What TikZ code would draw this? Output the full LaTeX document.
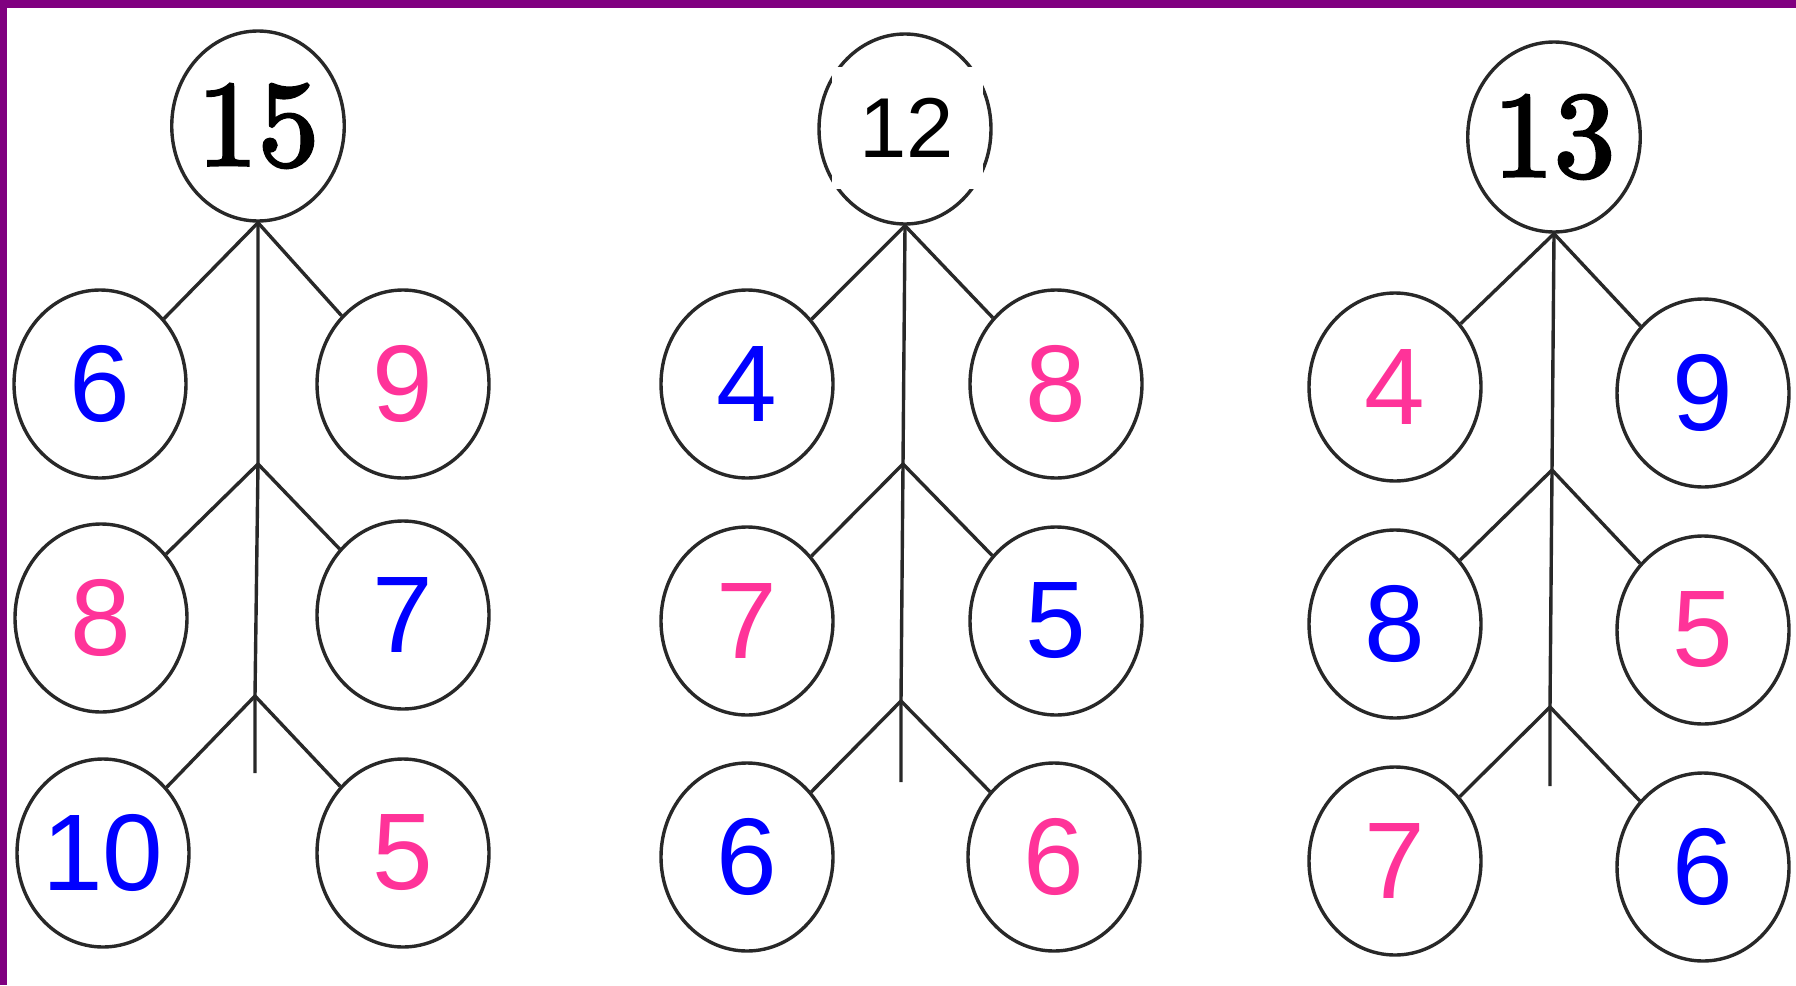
\documentclass[tikz,border=0pt]{standalone}
\usepackage{fontspec}
\newfontfamily\arialfont{Liberation Sans}
\newfontface\topfont{lmroman10-regular.otf}[RawFeature={embolden=2.5}]
\usetikzlibrary{shapes.geometric}
\definecolor{numblue}{RGB}{0,0,255}
\definecolor{numpink}{RGB}{255,51,153}
\definecolor{framepurple}{RGB}{128,0,128}
\definecolor{inkgray}{RGB}{40,40,40}
\begin{document}
\begin{tikzpicture}[x=1pt,y=-1pt,
    bubble/.style={draw=inkgray, line width=3.4pt, ellipse, inner sep=0pt,
      minimum width=172pt, minimum height=188pt,
      font=\arialfont\fontsize{109}{109}\selectfont},
    topbubble/.style={bubble, minimum height=190pt, font=\topfont\fontsize{122}{122}\selectfont},
    twig/.style={draw=inkgray, line width=3.4pt}]
  \useasboundingbox (0,0) rectangle (1796,985);
  \fill[white] (0,0) rectangle (1796,985);
  % frame
  \fill[framepurple] (0,0) rectangle (1796,8);
  \fill[framepurple] (0,0) rectangle (7,985);

  % tree 15
  \node[topbubble] (a0) at (258,126) {15};
  \node[bubble, text=numblue] (a1l) at (100,384) {6};
  \node[bubble, text=numpink] (a1r) at (403,384) {9};
  \node[bubble, text=numpink] (a2l) at (101,618) {8};
  \node[bubble, text=numblue] (a2r) at (403,615) {7};
  \node[bubble, text=numblue] (a3l) at (103,853) {10};
  \node[bubble, text=numpink] (a3r) at (403,853) {5};
  \coordinate (aj1) at (a0.south);
  \coordinate (aj2) at (258,464);
  \coordinate (aj3) at (255,696);
  \coordinate (aend) at (255,773);
  \draw[twig] (aj1) -- (aj2) -- (aj3) -- (aend);
  \draw[twig] (a1l) -- (aj1) -- (a1r);
  \draw[twig] (a2l) -- (aj2) -- (a2r);
  \draw[twig] (a3l) -- (aj3) -- (a3r);

  % tree 12
  \node[topbubble] (b0) at (905,129) {};
  \node[fill=white, minimum width=151pt, minimum height=122pt,
    font=\arialfont\fontsize{85}{85}\selectfont] (b0box) at (907,128) {12};
  \node[bubble, text=numblue] (b1l) at (747,384) {4};
  \node[bubble, text=numpink] (b1r) at (1056,384) {8};
  \node[bubble, text=numpink] (b2l) at (747,621) {7};
  \node[bubble, text=numblue] (b2r) at (1056,621) {5};
  \node[bubble, text=numblue] (b3l) at (747,857) {6};
  \node[bubble, text=numpink] (b3r) at (1054,857) {6};
  \coordinate (bj1) at (b0.south);
  \coordinate (bj2) at (903,464);
  \coordinate (bj3) at (901,701);
  \coordinate (bend) at (901,782);
  \draw[twig] (bj1) -- (bj2) -- (bj3) -- (bend);
  \draw[twig] (b1l) -- (bj1) -- (b1r);
  \draw[twig] (b2l) -- (bj2) -- (b2r);
  \draw[twig] (b3l) -- (bj3) -- (b3r);

  % tree 13
  \node[topbubble] (c0) at (1554,137) {13};
  \node[bubble, text=numpink] (c1l) at (1395,387) {4};
  \node[bubble, text=numblue] (c1r) at (1703,393) {9};
  \node[bubble, text=numblue] (c2l) at (1395,624) {8};
  \node[bubble, text=numpink] (c2r) at (1703,630) {5};
  \node[bubble, text=numpink] (c3l) at (1395,861) {7};
  \node[bubble, text=numblue] (c3r) at (1703,867) {6};
  \coordinate (cj1) at (c0.south);
  \coordinate (cj2) at (1552,470);
  \coordinate (cj3) at (1550,707);
  \coordinate (cend) at (1550,786);
  \draw[twig] (cj1) -- (cj2) -- (cj3) -- (cend);
  \draw[twig] (c1l) -- (cj1) -- (c1r);
  \draw[twig] (c2l) -- (cj2) -- (c2r);
  \draw[twig] (c3l) -- (cj3) -- (c3r);
\end{tikzpicture}
\end{document}
